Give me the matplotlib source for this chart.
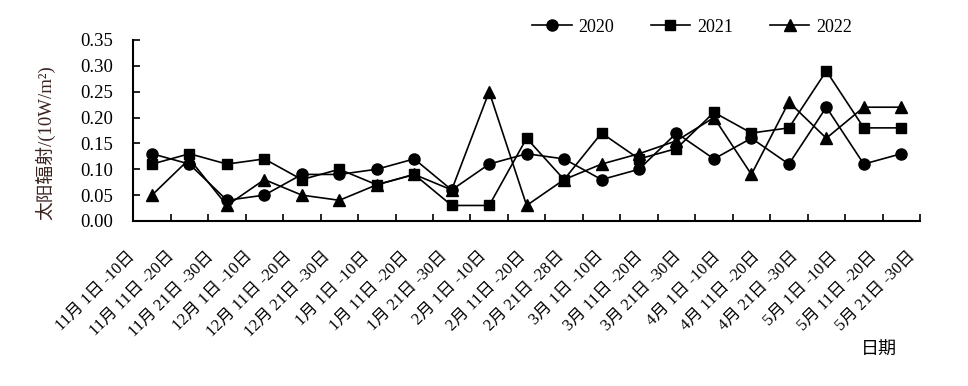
import matplotlib
matplotlib.use("Agg")
import matplotlib.pyplot as plt
import numpy as np

# dekad labels, Nov -> May
periods = ["11月 1日 -10日", "11月 11日 -20日", "11月 21日 -30日",
           "12月 1日 -10日", "12月 11日 -20日", "12月 21日 -30日",
           "1月 1日 -10日", "1月 11日 -20日", "1月 21日 -30日",
           "2月 1日 -10日", "2月 11日 -20日", "2月 21日 -28日",
           "3月 1日 -10日", "3月 11日 -20日", "3月 21日 -30日",
           "4月 1日 -10日", "4月 11日 -20日", "4月 21日 -30日",
           "5月 1日 -10日", "5月 11日 -20日", "5月 21日 -30日"]

y2020 = [0.13, 0.11, 0.04, 0.05, 0.09, 0.09, 0.10, 0.12, 0.06, 0.11, 0.13,
         0.12, 0.08, 0.10, 0.17, 0.12, 0.16, 0.11, 0.22, 0.11, 0.13]
y2021 = [0.11, 0.13, 0.11, 0.12, 0.08, 0.10, 0.07, 0.09, 0.03, 0.03, 0.16,
         0.08, 0.17, 0.12, 0.14, 0.21, 0.17, 0.18, 0.29, 0.18, 0.18]
y2022 = [0.05, 0.12, 0.03, 0.08, 0.05, 0.04, 0.07, 0.09, 0.06, 0.25, 0.03,
         0.08, 0.11, 0.13, 0.155, 0.20, 0.09, 0.23, 0.16, 0.22, 0.22]

serif = ['Liberation Serif', 'Noto Sans CJK SC']
plt.rcParams['font.family'] = serif

fig = plt.figure(figsize=(9.68, 3.86), dpi=100)
ax = fig.add_axes([0.1374, 0.4275, 0.813, 0.469])

x = np.arange(len(periods))
ax.plot(x, y2020, color='black', lw=1.2, marker='o', ms=8, label='2020')
ax.plot(x, y2021, color='black', lw=1.2, marker='s', ms=7.5, label='2021')
ax.plot(x, y2022, color='black', lw=1.2, marker='^', ms=8.5, label='2022')

ax.set_xlim(-0.5, len(periods) - 0.5)
ax.set_ylim(0, 0.35)
ax.set_yticks(np.arange(0, 0.351, 0.05))
ax.set_yticklabels(["%.2f" % v for v in np.arange(0, 0.351, 0.05)], fontsize=13.5)
ax.tick_params(axis='y', direction='in', length=5, width=1.2, pad=14)

# tick marks between categories, labels placed separately
ax.set_xticks(np.arange(0.5, len(periods), 1.0))
ax.set_xticklabels([])
ax.tick_params(axis='x', which='major', direction='in', length=5, width=1.2)
ax.set_xticks(-0.507 + 1.041 * x, minor=True)
ax.set_xticklabels(periods, minor=True, fontsize=12, rotation=45,
                   ha='right', va='center', rotation_mode='anchor')
ax.tick_params(axis='x', which='minor', length=0, pad=24)

for s in ['top', 'right']:
    ax.spines[s].set_visible(False)
for s in ['left', 'bottom']:
    ax.spines[s].set_linewidth(1.5)

fig.text(0.047, 0.63, "太阳辐射/(10W/m²)", rotation=90, ha='center', va='center',
         fontsize=13.5, color='#3a2420', family=serif)
fig.text(0.908, 0.093, "日期", ha='center', va='center', fontsize=13,
         family=['Noto Sans CJK SC'])

fig.legend(loc='center', bbox_to_anchor=(0.715, 0.93), ncol=3, frameon=False,
           fontsize=13, handlelength=2.2, columnspacing=2.0, handletextpad=0.4)

fig.savefig("out.png", dpi=100)
